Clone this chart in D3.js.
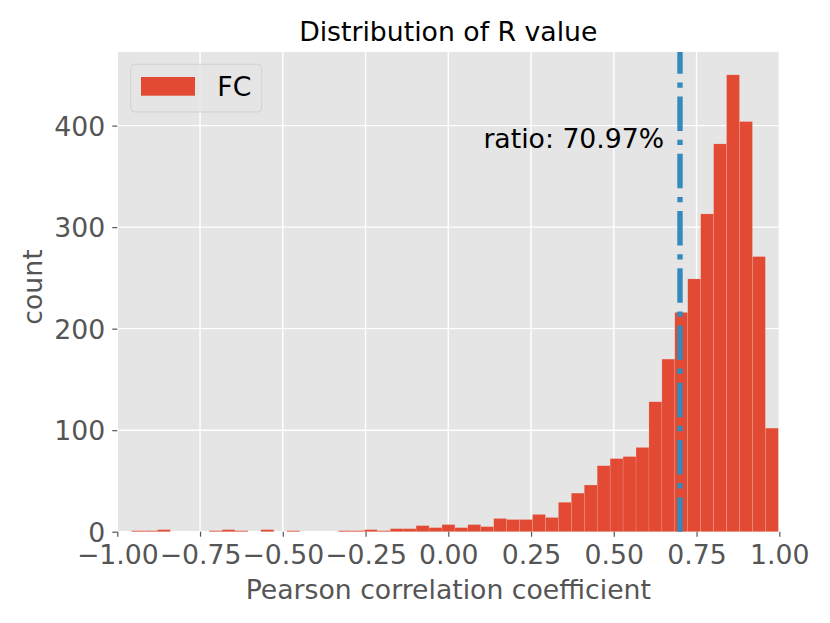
<!DOCTYPE html>
<html>
<head>
<meta charset="utf-8">
<script src="https://cdn.jsdelivr.net/npm/d3@7"></script>
<style>
  body { margin: 0; background: #fff; }
  text { font-family: "DejaVu Sans", sans-serif; }
</style>
</head>
<body>
<script>
// Histogram data (50 equal bins)
const binStart = -0.957;
const binEnd = 0.997;
const counts = [1, 1, 2, 0, 0, 0, 1, 2, 1, 0,
  2, 0, 1, 0, 0, 0, 1, 1, 2, 1,
  3, 3, 6, 4, 7, 4, 7, 5, 13, 12,
  12, 17, 14, 29, 38, 46, 65, 72, 74, 83,
  128, 170, 216, 249, 313, 382, 450, 404, 271, 102];
const xTicks = [-1, -0.75, -0.5, -0.25, 0, 0.25, 0.5, 0.75, 1];
const yTicks = [0, 100, 200, 300, 400];
const threshold = 0.70;
const ratioLabel = "ratio: 70.97%";
const ratioPos = [0.106, 378];
const seriesName = "FC";

// Set the dimensions of the canvas / graph
const W = 830, H = 623;
const margin = { top: 52, right: 50.7, bottom: 91.3, left: 117.3 },
  width = W - margin.left - margin.right,
  height = H - margin.top - margin.bottom;

const x = d3.scaleLinear().domain([-1, 1]).range([0, width]);
const y = d3.scaleLinear().domain([0, 472.5]).range([height, 0]);

const binW = (binEnd - binStart) / counts.length;
const bins = counts.map((c, i) => ({ x0: binStart + i * binW, x1: binStart + (i + 1) * binW, count: c }));

const svg = d3.select("body").append("svg")
  .attr("width", W)
  .attr("height", H);

const g = svg.append("g")
  .attr("transform", "translate(" + margin.left + "," + margin.top + ")");

// background
g.append("rect")
  .attr("width", width)
  .attr("height", height)
  .attr("fill", "#E5E5E5");

// grid
g.selectAll(".xgrid")
  .data(xTicks)
  .enter().append("line")
  .attr("x1", d => x(d)).attr("x2", d => x(d))
  .attr("y1", 0).attr("y2", height)
  .attr("stroke", "#fff").attr("stroke-width", 1.4);

g.selectAll(".ygrid")
  .data(yTicks)
  .enter().append("line")
  .attr("x1", 0).attr("x2", width)
  .attr("y1", d => y(d)).attr("y2", d => y(d))
  .attr("stroke", "#fff").attr("stroke-width", 1.4);

// bars
g.selectAll(".bar")
  .data(bins)
  .enter().append("rect")
  .attr("x", d => x(d.x0))
  .attr("width", d => x(d.x1) - x(d.x0))
  .attr("y", d => y(d.count))
  .attr("height", d => y(0) - y(d.count))
  .attr("fill", "#E24A33")
  .attr("stroke", "#EEEEEE")
  .attr("stroke-width", 0.5)
  .attr("stroke-opacity", 0.3);

// threshold line (dash-dot, drawn bottom to top)
const lw = 5.4;
g.append("line")
  .attr("x1", x(threshold)).attr("x2", x(threshold))
  .attr("y1", height).attr("y2", 0)
  .attr("stroke", "#348ABD")
  .attr("stroke-width", lw)
  .attr("stroke-dasharray", [6.4 * lw, 1.6 * lw, 1 * lw, 1.6 * lw].join(","));

// ratio text
g.append("text")
  .attr("x", x(ratioPos[0]))
  .attr("y", y(ratioPos[1]))
  .attr("font-size", 26.7)
  .attr("fill", "#000")
  .text(ratioLabel);

// axes
const fmt = d => d3.format(".2f")(d).replace("-", "\u2212");
const xAxis = d3.axisBottom(x).tickValues(xTicks).tickFormat(fmt).tickSize(5).tickPadding(8);
const yAxis = d3.axisLeft(y).tickValues(yTicks).tickSize(5).tickPadding(7);

const gx = g.append("g")
  .attr("transform", "translate(0," + height + ")")
  .call(xAxis);
const gy = g.append("g").call(yAxis);

[gx, gy].forEach(a => {
  a.select(".domain").remove();
  a.selectAll(".tick line").attr("stroke", "#555").attr("stroke-width", 1.2);
  a.selectAll(".tick text")
    .attr("font-family", "DejaVu Sans")
    .attr("font-size", 26.7)
    .attr("fill", "#555");
});
gy.selectAll(".tick text").attr("dy", "0.36em");

// axis labels
svg.append("text")
  .attr("x", margin.left + width / 2)
  .attr("y", 599)
  .attr("text-anchor", "middle")
  .attr("font-size", 26.7)
  .attr("fill", "#555")
  .text("Pearson correlation coefficient");

svg.append("text")
  .attr("transform", "translate(41.5,287) rotate(-90)")
  .attr("text-anchor", "middle")
  .attr("font-size", 26.7)
  .attr("fill", "#555")
  .text("count");

// title
svg.append("text")
  .attr("x", margin.left + width / 2)
  .attr("y", 41)
  .attr("text-anchor", "middle")
  .attr("font-size", 26.7)
  .attr("fill", "#000")
  .text("Distribution of R value");

// legend
const lg = svg.append("g");
lg.append("rect")
  .attr("x", 130.7).attr("y", 64.3)
  .attr("width", 131).attr("height", 47.7)
  .attr("rx", 4).attr("ry", 4)
  .attr("fill", "#E5E5E5").attr("fill-opacity", 0.8)
  .attr("stroke", "#CCCCCC").attr("stroke-opacity", 0.8).attr("stroke-width", 1);
lg.append("rect")
  .attr("x", 141).attr("y", 77)
  .attr("width", 54).attr("height", 18.7)
  .attr("fill", "#E24A33");
lg.append("text")
  .attr("x", 217.3).attr("y", 96)
  .attr("font-size", 26.7)
  .attr("fill", "#000")
  .text(seriesName);
</script>
</body>
</html>
